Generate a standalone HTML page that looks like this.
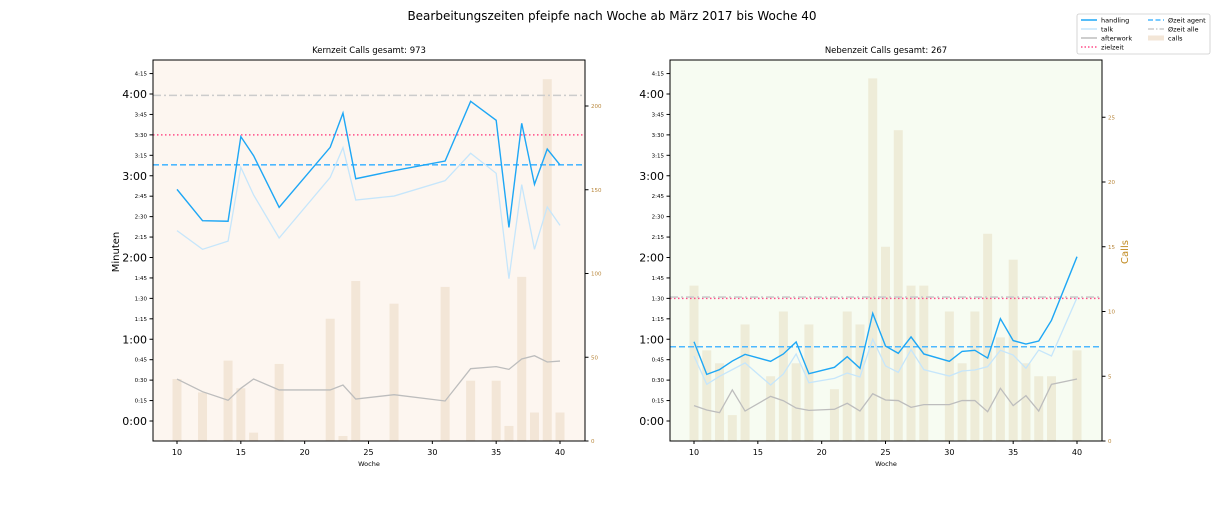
<!DOCTYPE html>
<html><head><meta charset="utf-8"><style>
body{margin:0;background:#fff;width:1224px;height:504px;overflow:hidden;font-family:"Liberation Sans","DejaVu Sans",sans-serif;}
svg text{font-family:"DejaVu Sans","Liberation Sans",sans-serif;}
</style></head><body>
<svg id="c" width="1224" height="504" xmlns="http://www.w3.org/2000/svg">
<text x="612" y="20" text-anchor="middle" font-size="12" fill="#000">Bearbeitungszeiten pfeipfe nach Woche ab März 2017 bis Woche 40</text>
</svg>
<script>
// ---- Left panel (Kernzeit) data ----
const kWeeks=[10,12,14,15,16,18,22,23,24,27,31,33,35,36,37,38,39,40];
const kHandling=[170,147,146.6,208.7,194.7,156.8,200.9,226,177.8,183.7,190.8,234.6,220.7,142.1,218.5,173.7,199.6,187.9];
const kTalk=[139.7,126,132,186.2,165.9,134.3,178.8,200.6,162.2,165.1,176.4,196.5,181.8,104.5,173.5,126,157.1,143.6];
const kAfter=[30.8,21.5,15.2,24,30.8,22.8,22.8,26.4,16.1,19.3,14.7,38.4,39.9,37.9,45.5,47.9,43.3,44];
const kCalls=[37,29,48,31.5,5,46,73,3,95.5,82,92,36,36,9,98,17,216,17];
const kRefs=[188,210,239]; // Øzeit agent, zielzeit, Øzeit alle
// ---- Right panel (Nebenzeit) data ----
const nWeeks=[10,11,12,13,14,16,17,18,19,21,22,23,24,25,26,27,28,30,31,32,33,34,35,36,37,38,40];
const nHandling=[58.2,34.2,37.7,44,48.9,43.8,49.2,58,34.7,39.4,47.2,38.7,79,55,49.7,61.7,49.2,43.8,51.1,51.9,46.2,75.1,59,56.5,58.7,73.9,120.6];
const nTalk=[47.7,26.9,32.8,37.7,42.6,26.4,34.5,49.2,28.1,31.3,35.2,32.3,60,40.4,35.7,52.4,37.7,33,36.7,37.4,39.9,51.9,48.4,38.7,52.1,47.7,90.5];
const nAfter=[11.3,8.1,6.1,22.8,7.3,18.1,14.9,9.5,7.8,8.6,13,7.3,20,15.4,15,10,12,12,15,15,6.8,24,11.3,18.6,7.3,26.9,30.8];
const nCalls=[12,7,6,2,9,5,10,6,9,4,10,9,28,15,24,12,12,10,6,10,16,8,14,6,5,5,7];
const nRefs=[54.5,90,91];
const xTicks=[10,15,20,25,30,35,40];
const kCallTicks=[0,50,100,150,200];
const nCallTicks=[0,5,10,15,20,25];

const NS="http://www.w3.org/2000/svg";
const svg=document.getElementById('c');
function mk(tag,attrs,parent){const e=document.createElementNS(NS,tag);for(const k in attrs)e.setAttribute(k,attrs[k]);(parent||svg).appendChild(e);return e;}
const Y0=60,Y1=441;
function ty(s){return 421-s*1.3625;}
function fmt(s){const m=Math.floor(s/60),r=s%60;return m+':'+(r<10?'0':'')+r;}

function panel(X0,bg,barCol,title,weeks,hand,talk,aft,calls,refs,callScale,callTicks,pname){
  const X1=X0+432;
  const tx=w=>X0+(w-8.12)*12.767;
  const cy=c=>441-c*callScale;
  const g=mk('g',{});
  
  
  const bgr=mk('rect',{x:X0,y:Y0,width:432,height:381,fill:bg},g);
  
  
  const t=mk('text',{x:(X0+X1)/2,y:53,'text-anchor':'middle','font-size':'8.5',fill:'#000'},g);t.textContent=title;
  
  
  // bars
  weeks.forEach((w,i)=>{const r=mk('rect',{x:tx(w)-4.5,y:cy(calls[i]),width:9,height:441-cy(calls[i]),fill:barCol},g);
    
    });
  // ref lines
  const rl=[[refs[0],'#4db8ff','6,3',1.6,'oezeit-agent-line'],[refs[1],'#ff4d88','1.5,2.5',1.6,'zielzeit-line'],[refs[2],'#cccccc','8,3,2,3',1.6,'oezeit-alle-line']];
  rl.forEach(a=>{const l=mk('line',{x1:X0,x2:X1,y1:ty(a[0]),y2:ty(a[0]),stroke:a[1],'stroke-dasharray':a[2],'stroke-width':a[3]},g);
    
    });
  const line=(vals,col,wd,nm)=>{const p=mk('polyline',{points:weeks.map((w,i)=>tx(w)+','+ty(vals[i])).join(' '),fill:'none',stroke:col,'stroke-width':wd},g);
    
    };
  line(aft,'#bdbdbd',1.3,'afterwork-line');
  line(talk,'#c6e6fb',1.3,'talk-line');
  line(hand,'#1ea7f5',1.4,'handling-line');
  mk('rect',{x:X0,y:Y0,width:432,height:381,fill:'none',stroke:'#000','stroke-width':1},g);
  // x ticks
  xTicks.forEach(w=>{mk('line',{x1:tx(w),x2:tx(w),y1:441,y2:444,stroke:'#000'},g);
    const tl=mk('text',{x:tx(w),y:455,'text-anchor':'middle','font-size':'8'},g);tl.textContent=w;
    
    });
  const xl=mk('text',{x:(X0+X1)/2,y:466,'text-anchor':'middle','font-size':'6.5'},g);xl.textContent='Woche';
  
  
  // y time ticks
  for(let s=0;s<=255;s+=15){const y=ty(s);const major=s%60===0;
    mk('line',{x1:X0-3.5,x2:X0,y1:y,y2:y,stroke:'#000'},g);
    const tl=mk('text',{x:X0-6,y:y+(major?4:2),'text-anchor':'end','font-size':major?'11':'5.5'},g);tl.textContent=fmt(s);
    
    }
  // calls ticks
  callTicks.forEach(c=>{const y=cy(c);mk('line',{x1:X1,x2:X1+3.5,y1:y,y2:y,stroke:'#000'},g);
    const tl=mk('text',{x:X1+6,y:y+2,'font-size':'5.5',fill:'#b8863b'},g);tl.textContent=c;
    
    });
}
panel(153,'#fdf6f0','#f3e6d7','Kernzeit Calls gesamt: 973',kWeeks,kHandling,kTalk,kAfter,kCalls,kRefs,1.675,kCallTicks,'kernzeit');
panel(670,'#f7fcf2','#eeecd8','Nebenzeit Calls gesamt: 267',nWeeks,nHandling,nTalk,nAfter,nCalls,nRefs,12.95,nCallTicks,'nebenzeit');

const yl=mk('text',{x:0,y:0,transform:'translate(119,252) rotate(-90)','text-anchor':'middle','font-size':'10'});yl.textContent='Minuten';


const cl=mk('text',{x:0,y:0,transform:'translate(1128,252) rotate(-90)','text-anchor':'middle','font-size':'10',fill:'#c08a20'});cl.textContent='Calls';



// legend
const lg=mk('g',{});


mk('rect',{x:1077,y:14,width:133,height:40,fill:'#fff',stroke:'#ccc','stroke-width':0.8,rx:2},lg);
const items=[[1081,20,'#1ea7f5','','handling'],[1081,29,'#c6e6fb','','talk'],[1081,38,'#bdbdbd','','afterwork'],[1081,47,'#ff4d88','1.5,2','zielzeit'],
[1148,20,'#4db8ff','5,2.5','Øzeit agent'],[1148,29,'#ccc','6,2,1.5,2','Øzeit alle']];
items.forEach(it=>{const e=mk('g',{},lg);
  
  
  mk('line',{x1:it[0],x2:it[0]+16,y1:it[1],y2:it[1],stroke:it[2],'stroke-width':1.5,'stroke-dasharray':it[3]},e);
  const t=mk('text',{x:it[0]+20,y:it[1]+2.5,'font-size':'6.5'},e);t.textContent=it[4];});
const ce=mk('g',{},lg);


mk('rect',{x:1148,y:35.5,width:16,height:5,fill:'#f3e6d7'},ce);
const ct=mk('text',{x:1168,y:40.5,'font-size':'6.5'},ce);ct.textContent='calls';
</script>
</body></html>
